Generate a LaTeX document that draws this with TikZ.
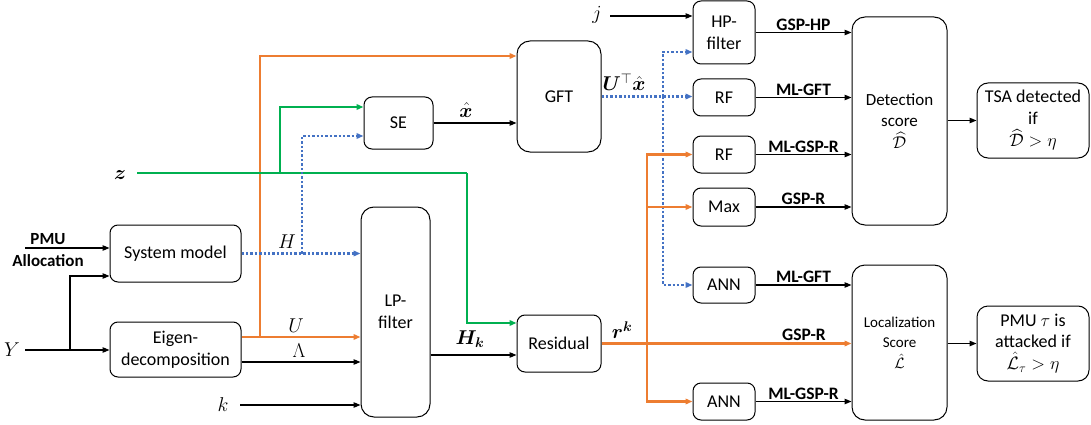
\documentclass[tikz,border=0pt]{standalone}
\usepackage{fix-cm}
\usepackage{amsmath,amssymb}
\usepackage{bm}
\usepackage{fontspec}
\setmainfont{Carlito}
\usetikzlibrary{arrows.meta}
\definecolor{orng}{HTML}{ED7D31}
\definecolor{grn}{HTML}{00B050}
\definecolor{blu}{HTML}{4472C4}
\newcommand{\fz}[2]{\fontsize{#1}{#2}\selectfont}
\begin{document}
\begin{tikzpicture}[x=1pt,y=-1pt,
  box/.style={draw, line width=1pt, rounded corners=8pt, align=center, inner sep=0pt, font=\fz{18}{22}},
  bigbox/.style={box, rounded corners=13pt},
  tip/.style={-{Triangle[length=7pt,width=5.5pt]}},
  arr/.style={tip, line width=1.1pt, draw=black},
  org/.style={tip, line width=2.2pt, draw=orng},
  grnl/.style={line width=2.6pt, draw=grn},
  grna/.style={tip, line width=2.6pt, draw=grn},
  blul/.style={line width=2.4pt, draw=blu, dash pattern=on 2.4pt off 2pt},
  blua/.style={blul, -{Triangle[length=7pt,width=5.5pt,fill=blu]}},
  lbl/.style={font=\bfseries\fz{17.5}{20}, inner sep=1.5pt, above},
  mlbl/.style={font=\fz{20}{24}, inner sep=0pt}
]
\useasboundingbox (0,0) rectangle (1091,425);

% boxes
\node[box, minimum width=131pt, minimum height=57pt] (sys) at (175.5,253.5) {System model};
\node[box, minimum width=131pt, minimum height=55pt] (eig) at (175.5,349.5) {Eigen-\\decomposition};
\node[bigbox, minimum width=69pt, minimum height=210pt] (lp) at (395.5,312) {LP-\\filter};
\node[box, minimum width=84pt, minimum height=57pt] (res) at (559,343.5) {Residual};
\node[box, minimum width=69pt, minimum height=52pt] (se) at (398.5,123) {SE};
\node[bigbox, minimum width=84pt, minimum height=111pt] (gft) at (559,96.5) {GFT};
\node[box, minimum width=62pt, minimum height=63pt] (hp) at (724,32.5) {HP-\\filter};
\node[box, minimum width=62pt, minimum height=37pt] (rf1) at (724,97.5) {RF};
\node[box, minimum width=62pt, minimum height=37pt] (rf2) at (724,154.5) {RF};
\node[box, minimum width=62pt, minimum height=38pt] (max) at (724,207) {Max};
\node[box, minimum width=62pt, minimum height=36pt] (ann1) at (724,285) {ANN};
\node[box, minimum width=62pt, minimum height=37pt] (ann2) at (724,401.5) {ANN};
\node[bigbox, minimum width=95pt, minimum height=208pt, font=\fz{17}{21.5}] (det) at (899.5,121) {Detection\\score\\$\widehat{\mathcal{D}}$};
\node[bigbox, minimum width=95pt, minimum height=155pt, font=\fz{15}{20.5}] (loc) at (899.5,342.5) {Localization\\Score\\$\hat{\mathcal{L}}$};
\node[box, rounded corners=11pt, minimum width=112pt, minimum height=75pt] (tsa) at (1033,120.5) {TSA detected\\if\\$\widehat{\mathcal{D}}>\eta$};
\node[box, rounded corners=11pt, minimum width=112pt, minimum height=75pt, font=\fz{18}{21}] (pmu) at (1033,343.5) {PMU $\tau$ is\\attacked if\\[1pt]$\hat{\mathcal{L}}_\tau>\eta$};

% input labels
\node[font=\bfseries\fz{17}{20}, inner sep=0pt] (pmuT) at (48,239) {PMU};
\node[font=\bfseries\fz{17}{20}, inner sep=0pt] (allocT) at (48,261) {Allocation};
\node[mlbl] (Y) at (12,350) {$Y$};
\node[mlbl] (k) at (223,405) {$k$};
\node[mlbl] (z) at (120,175) {$\bm{z}$};
\node[mlbl] (j) at (597,15) {$j$};

\coordinate (pa) at (25,248);
\coordinate (ys) at (25,350);
\coordinate (yb) at (70,350);
\coordinate (ks) at (240,405);
\coordinate (zs) at (137,173);
\coordinate (zb) at (280,173);
\coordinate (zt) at (467,173);
\coordinate (js) at (610,16);
\coordinate (hb) at (302,253.5);
\coordinate (ub) at (260,337);
\coordinate (gb) at (663,96.5);
\coordinate (rb) at (647,343.5);

% left inputs
\draw[arr] (pa) -- (pa -| sys.west);
\draw[arr] (ys) -- (ys -| eig.west);
\draw[arr] (yb) |- ([yshift=-22.5pt]sys.west);
\draw[arr] (ks) -- (ks -| lp.west);
\draw[arr] ([yshift=-12.5pt]eig.east) -- ([yshift=-12.5pt]eig.east -| lp.west);
\node[mlbl] (lam) at (299,351) {$\Lambda$};

% orange U
\draw[org] (ub) |- ([yshift=40.5pt]gft.west);
\draw[org] ([yshift=12.5pt]eig.east) -- ([yshift=12.5pt]eig.east -| lp.west);
\node[mlbl] (Ulbl) at (296,326) {$U$};

% green z
\draw[grnl] (zs) -- (zt);
\draw[grna] (zt) |- ([yshift=20.5pt]res.west);
\draw[grna] (zb) |- ([yshift=16pt]se.west);

% blue H
\draw[blua] (sys.east) -- (sys.east -| lp.west);
\node[mlbl] (Hlbl) at (287,242) {$H$};
\draw[blua] (hb) |- ([yshift=-13pt]se.west);

% SE -> GFT
\draw[arr] (se.east) -- (se.east -| gft.west);
\node[mlbl] (xh) at (466,110) {$\hat{\bm{x}}$};

% GFT -> right
\draw[blua] (gft.east) -- (gft.east -| rf1.west);
\node[mlbl] (utx) at (624,82) {$\bm{U}^{\top}\hat{\bm{x}}$};
\draw[blua] (gb) |- ([yshift=-19.5pt]hp.west);
\draw[blua] (gb) |- (ann1.west);
\draw[arr] (js) -- (js -| hp.west);

% LP -> residual
\draw[arr] ([yshift=-43pt]lp.east) -- ([yshift=-43pt]lp.east -| res.west);
\node[mlbl] (hk) at (470,339) {$\bm{H_k}$};

% residual -> right
\draw[org] (res.east) -- (res.east -| loc.west) node[pos=0.81, lbl, text=black] {GSP-R};
\node[mlbl] (rk) at (622,330) {$\bm{r^k}$};
\draw[org] (rb) |- (rf2.west);
\draw[org] (rb) |- (max.west);
\draw[org] (rb) |- (ann2.west);

% to detection / localization
\draw[arr] (hp.east) -- (hp.east -| det.west) node[midway, lbl] {GSP-HP};
\draw[arr] (rf1.east) -- (rf1.east -| det.west) node[midway, lbl] {ML-GFT};
\draw[arr] (rf2.east) -- (rf2.east -| det.west) node[midway, lbl] {ML-GSP-R};
\draw[arr] (max.east) -- (max.east -| det.west) node[midway, lbl] {GSP-R};
\draw[arr] (ann1.east) -- (ann1.east -| loc.west) node[midway, lbl] {ML-GFT};
\draw[arr] (ann2.east) -- (ann2.east -| loc.west) node[midway, lbl] {ML-GSP-R};
\draw[arr] (det.east |- tsa.west) -- (tsa.west);
\draw[arr] (loc.east |- pmu.west) -- (pmu.west);
\end{tikzpicture}
\end{document}
